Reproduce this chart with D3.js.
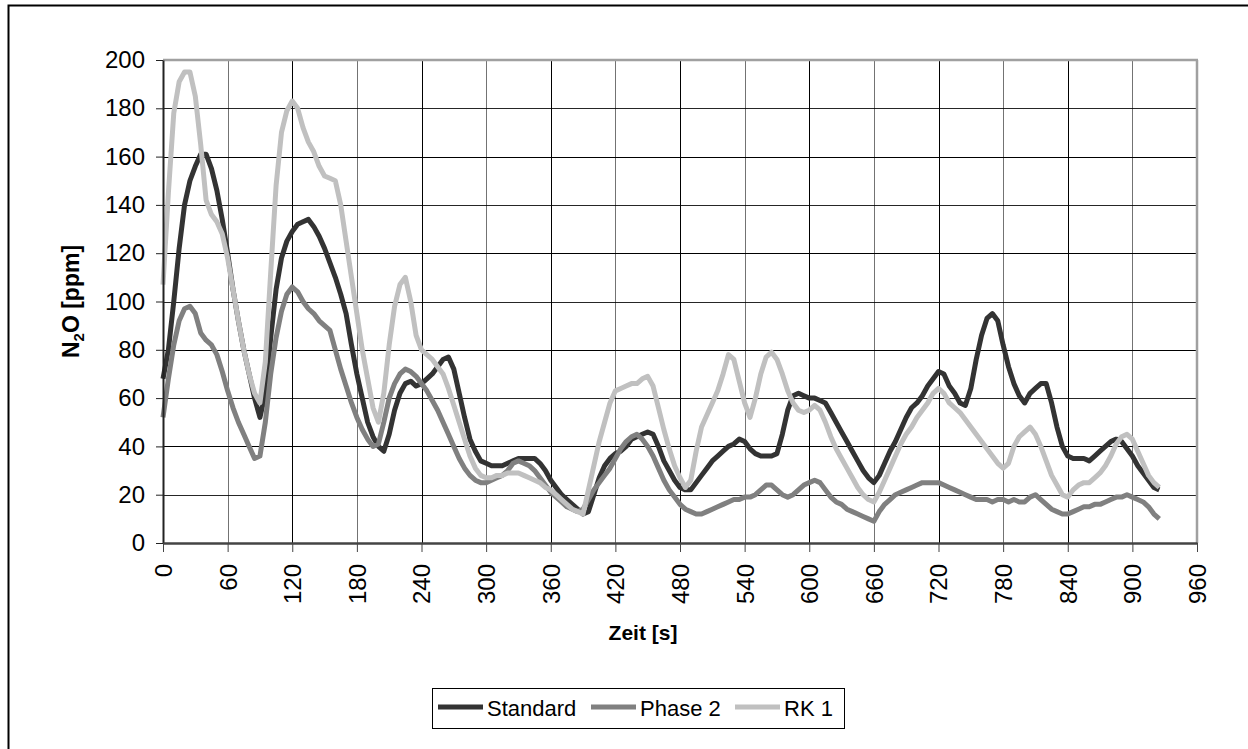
<!DOCTYPE html>
<html>
<head>
<meta charset="utf-8">
<script src="https://cdn.jsdelivr.net/npm/d3@7"></script>
<style>
    body{ margin:0; background:#fff; }
    svg{ display:block; font-family:"Liberation Sans", Arial, sans-serif; }
    .grid line{ stroke:#000; stroke-width:1px; shape-rendering:crispEdges; }
    .tick text{ font-size:24px; fill:#000; }
    .series{ fill:none; stroke-width:5px; stroke-linejoin:round; }
</style>
</head>
<body>
<div id="container"></div>
<script>
    // sample step in seconds
    var step = 5;

    var xTicks = [0,60,120,180,240,300,360,420,480,540,600,660,720,780,840,900,960];
    var yTicks = [0,20,40,60,80,100,120,140,160,180,200];

    var seriesNames = ["Standard", "Phase 2", "RK 1"];
    var seriesColors = ["#333333", "#808080", "#c0c0c0"];

    var standard = [68,80,100,122,140,150,156,161,161,155,146,134,120,105,92,80,70,60,52,62,
        85,105,118,125,129,132,133,134,131,127,122,116,110,103,95,82,70,60,50,44,
        40,38,45,55,62,66,67,65,66,68,70,73,76,77,72,62,52,43,38,34,
        33,32,32,32,33,34,35,35,35,35,33,30,26,23,20,18,16,14,12,13,
        20,27,32,35,37,38,40,43,44,45,46,45,40,34,30,26,23,22,22,25,
        28,31,34,36,38,40,41,43,42,39,37,36,36,36,37,45,55,61,62,61,
        60,60,59,58,54,50,46,42,38,34,30,27,25,28,33,38,42,47,52,56,
        58,61,65,68,71,70,65,62,58,57,64,76,86,93,95,92,82,73,66,61,
        58,62,64,66,66,58,48,40,36,35,35,35,34,36,38,40,42,43,42,39,
        36,32,29,26,23,22];

    var phase2 = [52,68,82,92,97,98,95,87,84,82,78,71,63,56,50,45,40,35,36,50,
        70,85,96,103,106,104,100,97,95,92,90,88,80,72,65,58,52,47,43,40,
        41,50,60,66,70,72,71,69,66,63,59,55,50,45,40,35,31,28,26,25,
        25,26,27,28,30,33,34,33,32,30,27,24,21,19,17,15,14,13,14,18,
        22,25,28,31,35,39,42,44,45,43,40,36,31,26,22,19,16,14,13,12,
        12,13,14,15,16,17,18,18,19,19,20,22,24,24,22,20,19,20,22,24,
        25,26,25,22,19,17,16,14,13,12,11,10,9,13,16,18,20,21,22,23,
        24,25,25,25,25,24,23,22,21,20,19,18,18,18,17,18,18,17,18,17,
        17,19,20,18,16,14,13,12,12,13,14,15,15,16,16,17,18,19,19,20,
        19,18,17,15,12,10];

    var rk1 = [107,145,178,191,195,195,185,165,142,136,133,128,118,105,92,80,70,62,58,75,
        112,148,170,179,183,180,172,166,162,156,152,151,150,140,125,110,95,80,68,56,
        50,62,82,98,107,110,100,86,80,78,76,73,70,64,57,50,43,36,31,28,
        27,27,28,28,29,29,29,28,27,26,25,23,22,20,18,16,14,13,12,22,
        32,42,50,58,63,64,65,66,66,68,69,65,56,47,39,32,27,23,26,38,
        48,53,58,63,70,78,76,67,58,52,60,70,77,79,76,70,63,58,55,54,
        55,57,55,50,44,39,35,31,27,23,20,18,17,21,26,31,36,41,45,48,
        52,55,58,62,64,62,58,56,54,51,48,45,42,39,36,33,31,33,40,44,
        46,48,45,40,34,28,24,20,19,22,24,25,25,27,29,32,36,41,44,45,
        43,38,33,28,25,23];

    var allSeries = [standard, phase2, rk1];

    var width = 1248, height = 749;
    var plot = {left:163, right:1197, top:60, bottom:543};

    var svg = d3.select("#container")
        .append("svg")
        .attr("width", width)
        .attr("height", height);

    // outer chart frame (right/bottom edges fall outside the picture)
    svg.append("rect")
        .attr("x", 8.5).attr("y", 5.5)
        .attr("width", 1260).attr("height", 760)
        .attr("fill", "#fff")
        .attr("stroke", "#000")
        .attr("stroke-width", 2);

    var x = d3.scaleLinear().domain([0, 960]).range([plot.left, plot.right]);
    var y = d3.scaleLinear().domain([0, 200]).range([plot.bottom, plot.top]);

    // gridlines
    var grid = svg.append("g").attr("class", "grid");
    grid.selectAll(".vg").data(xTicks.slice(1, -1))
        .enter().append("line")
        .attr("x1", function(d){return Math.round(x(d)) + 0.5})
        .attr("x2", function(d){return Math.round(x(d)) + 0.5})
        .attr("y1", plot.top).attr("y2", plot.bottom)
        .attr("stroke-opacity", function(d, i){return i % 2 == 0 ? 0.55 : 1});
    grid.selectAll(".hg").data(yTicks.slice(1, -1))
        .enter().append("line")
        .attr("x1", plot.left).attr("x2", plot.right)
        .attr("y1", function(d){return Math.round(y(d)) + 0.5})
        .attr("y2", function(d){return Math.round(y(d)) + 0.5})
        .attr("stroke-opacity", function(d, i){return i % 2 == 0 ? 0.85 : 1});

    // plot area border (top / right are grey)
    svg.append("line")
        .attr("x1", plot.left).attr("x2", plot.right + 1)
        .attr("y1", plot.top).attr("y2", plot.top)
        .attr("stroke", "#a0a0a0").attr("stroke-width", 2.5);
    svg.append("line")
        .attr("x1", plot.right).attr("x2", plot.right)
        .attr("y1", plot.top).attr("y2", plot.bottom)
        .attr("stroke", "#a0a0a0").attr("stroke-width", 2.5);

    // series
    var line = d3.line()
        .x(function(d, i){return x(i * step)})
        .y(function(d){return y(d)});

    svg.selectAll(".series").data(allSeries)
        .enter().append("path")
        .attr("class", "series")
        .attr("stroke", function(d, i){return seriesColors[i]})
        .attr("d", line);

    // axes
    var yAxis = d3.axisLeft(y).tickValues(yTicks).tickSize(7).tickSizeOuter(0).tickPadding(11);
    var gy = svg.append("g")
        .attr("transform", "translate(" + plot.left + ",0)")
        .call(yAxis);
    gy.select(".domain").attr("stroke", "#222").attr("stroke-width", 2);
    gy.selectAll(".tick line").attr("stroke", "#222");

    var xAxis = d3.axisBottom(x).tickValues(xTicks).tickSize(9).tickSizeOuter(0);
    var gx = svg.append("g")
        .attr("transform", "translate(0," + plot.bottom + ")")
        .call(xAxis);
    gx.select(".domain").attr("stroke", "#444").attr("stroke-width", 2.5);
    gx.selectAll(".tick line").attr("stroke", "#444");
    gx.selectAll(".tick text")
        .attr("transform", "rotate(-90)")
        .attr("text-anchor", "end")
        .attr("x", -21)
        .attr("y", 0)
        .attr("dy", "0.35em");

    // axis titles
    svg.append("text")
        .attr("x", 643).attr("y", 640)
        .attr("text-anchor", "middle")
        .attr("font-size", 21).attr("font-weight", "bold")
        .text("Zeit [s]");

    var yt = svg.append("text")
        .attr("transform", "translate(79," + ((plot.top + plot.bottom) / 2) + ") rotate(-90)")
        .attr("text-anchor", "middle")
        .attr("font-size", 23).attr("font-weight", "bold");
    yt.append("tspan").text("N");
    yt.append("tspan").attr("font-size", 15).attr("dy", 5).text("2");
    yt.append("tspan").attr("dy", -5).text("O [ppm]");

    // legend
    var legend = svg.append("g").attr("transform", "translate(432,688)");
    legend.append("rect")
        .attr("x", 0.5).attr("y", 0.5)
        .attr("width", 412).attr("height", 40)
        .attr("fill", "#fff").attr("stroke", "#000");
    var legendX = [6, 159, 303];
    var items = legend.selectAll(".item").data(seriesNames)
        .enter().append("g")
        .attr("transform", function(d, i){return "translate(" + legendX[i] + ",0)"});
    items.append("line")
        .attr("x1", 0).attr("x2", 45)
        .attr("y1", 19).attr("y2", 19)
        .attr("stroke", function(d, i){return seriesColors[i]})
        .attr("stroke-width", 5);
    items.append("text")
        .attr("x", 49).attr("y", 28)
        .attr("font-size", 22)
        .text(function(d){return d});
</script>
</body>
</html>
